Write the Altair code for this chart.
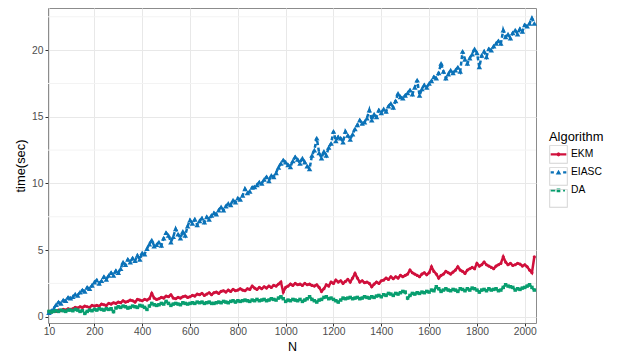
import altair as alt
import pandas as pd

ALGORITHMS = ["EKM", "EIASC", "DA"]
COLORS = ["#D0103C", "#0B72B8", "#089E6F"]
SHAPES = ["circle", "triangle-up", "square"]
POINT_SIZES = [10, 30, 12]
DASHES = [[1, 0], [4, 2.5], [7, 2.5]]

N = list(range(10, 2041, 10))

EKM = [
    0.4, 0.35, 0.45, 0.4, 0.5, 0.45, 0.55, 0.5, 0.6, 0.55,
    0.6, 0.7, 0.65, 0.75, 0.7, 0.8, 0.75, 0.7, 0.85, 0.8,
    0.85, 0.8, 0.95, 0.9, 0.85, 1.0, 0.95, 1.05, 1.0, 1.1,
    1.05, 1.2, 1.1, 1.15, 1.25, 1.2, 1.1, 1.3, 1.25, 1.2,
    1.3, 1.25, 1.35, 1.75, 1.4, 1.3, 1.35, 1.45, 1.4, 1.55,
    1.5, 1.65, 1.4, 1.35, 1.45, 1.4, 1.5, 1.55, 1.45, 1.5,
    1.6, 1.55, 1.7, 1.65, 1.75, 1.6, 1.7, 1.8, 1.65, 1.8,
    1.85, 1.75, 1.9, 1.95, 1.85, 2.0, 1.9, 2.05, 1.95, 2.0,
    2.1, 2.0, 1.95, 2.1, 2.05, 2.3, 2.15, 2.05, 2.2, 2.1,
    2.25, 2.15, 2.3, 2.2, 2.35, 2.3, 2.45, 2.6, 1.85, 2.2,
    2.3, 2.45, 2.35, 2.5, 2.4, 2.45, 2.35, 2.5, 2.4, 2.45,
    2.35, 2.3, 2.4, 2.2, 1.9, 2.1, 2.4, 2.3, 2.6, 2.5,
    2.75, 2.6, 2.7, 2.5, 2.65, 2.8, 2.6, 2.9, 3.25, 2.9,
    2.6, 2.7, 2.55, 2.6, 2.5, 2.25, 2.45, 2.6, 2.5, 2.7,
    2.75, 2.9, 2.8, 3.0, 2.85, 3.0, 2.9, 3.1, 3.0, 3.1,
    3.2, 3.5, 3.3, 3.2, 3.1, 3.0, 3.2, 3.3, 3.15, 3.3,
    3.75, 3.4, 3.2, 2.9, 3.1, 3.2, 3.4, 3.3, 3.2, 3.35,
    3.5, 3.75, 3.5, 3.4, 3.25, 3.5, 3.6, 3.7, 3.6, 4.0,
    3.8, 3.9, 4.1, 3.9, 3.8, 3.7, 3.6, 3.8, 3.9, 4.0,
    4.5, 4.1, 3.9, 4.0, 3.85, 3.9, 4.0, 3.95, 3.8, 3.9,
    3.75, 3.5, 3.3, 4.5,
]

EIASC = [
    0.3, 0.45, 0.6, 0.9, 1.1, 1.0, 1.25, 1.2, 1.45, 1.4,
    1.5, 1.7, 1.6, 1.85, 2.0, 1.9, 2.2, 2.1, 2.35, 2.6,
    2.75, 2.5, 2.7, 3.0, 2.8, 3.1, 3.3, 3.1, 3.45, 3.3,
    3.6, 4.1, 3.9, 4.3, 4.1, 4.4, 4.2, 4.6, 4.3, 4.8,
    4.7, 5.1, 5.45, 5.75, 5.3, 5.4, 5.6, 5.35, 5.9, 6.3,
    6.1, 5.6, 6.0, 6.6, 6.2, 5.9, 6.4, 6.1, 6.8, 7.25,
    7.0, 7.3, 6.9, 7.2, 7.4, 7.1, 7.5, 7.3, 7.6, 7.8,
    7.7, 8.0, 8.25, 8.0, 8.3, 8.5, 8.4, 8.75, 8.6, 8.9,
    8.8, 9.1, 9.6, 9.3, 9.4, 9.7, 9.75, 9.9, 10.1, 10.0,
    10.3, 10.5, 10.2, 10.6, 10.5, 10.8, 11.2, 11.5, 11.75, 11.6,
    11.4, 11.25, 11.7, 12.0, 11.8, 11.5, 11.9, 11.6, 11.3, 11.1,
    12.1, 12.5, 13.4, 12.3, 11.9, 12.4, 12.1, 12.7, 13.0, 13.9,
    13.2, 13.5, 13.4, 13.1, 13.9, 13.6, 13.3, 13.7, 14.1, 14.4,
    14.75, 14.5, 14.6, 14.9, 15.5, 14.75, 15.2, 15.0, 15.5, 15.3,
    15.6, 15.4, 15.8, 16.0, 15.7, 16.2, 16.75, 16.5, 16.4, 16.6,
    16.8, 17.0, 16.7, 17.2, 17.75, 16.6, 17.1, 17.4, 17.2, 17.5,
    17.7, 18.0, 17.9, 18.3, 19.0, 18.4, 17.9, 18.2, 18.5, 18.3,
    18.5, 18.7, 18.4, 19.9, 19.3, 19.0, 19.4, 19.7, 20.1, 19.8,
    18.75, 19.6, 19.9, 19.5, 20.1, 20.0, 20.3, 20.5, 20.7, 20.5,
    21.5, 21.0, 21.2, 20.9, 21.3, 21.5, 21.2, 21.6, 21.4, 21.9,
    21.8, 22.0, 22.4, 22.0,
]

DA = [
    0.4, 0.35, 0.4, 0.45, 0.4, 0.5, 0.45, 0.4, 0.5, 0.5,
    0.45, 0.55, 0.5, 0.4, 0.45, 0.25, 0.4, 0.5, 0.45, 0.55,
    0.5, 0.6, 0.55, 0.5, 0.6, 0.55, 0.6, 0.38, 0.65, 0.75,
    0.7, 0.8, 0.75, 0.65, 0.7, 0.8, 0.75, 0.7, 0.85, 0.8,
    0.7, 0.55, 0.8, 1.0, 0.9, 0.85, 0.9, 1.0, 0.95, 1.15,
    1.0, 0.85, 0.95, 1.0, 0.95, 0.9, 1.05, 1.0, 0.95, 1.0,
    1.05, 1.0, 1.1, 1.05, 1.1, 1.0, 1.05, 1.1, 1.0, 1.0,
    1.05, 1.1, 1.05, 1.15, 1.1, 1.05, 1.15, 1.2, 1.1, 1.2,
    1.15, 1.2, 1.25, 1.2, 1.15, 1.25, 1.2, 1.3, 1.2, 1.25,
    1.3, 1.2, 1.25, 1.35, 1.3, 1.25, 1.4, 1.5, 1.35, 1.15,
    1.25, 1.2, 1.3, 1.25, 1.2, 1.3, 1.15, 1.25, 1.35, 1.5,
    1.3, 1.2, 1.1, 1.25, 1.3, 1.45, 1.5, 1.35, 1.4, 1.3,
    1.2, 1.1, 1.25, 1.4, 1.35, 1.4, 1.45, 1.35, 1.4, 1.45,
    1.35, 1.4, 1.5, 1.45, 1.4, 1.5, 1.45, 1.55, 1.6, 1.5,
    1.65, 1.6, 1.75, 1.7, 1.6, 1.75, 1.7, 1.8, 1.9, 1.85,
    1.4, 1.6, 1.75, 1.7, 1.8, 1.75, 1.85, 1.8, 1.9, 1.85,
    2.0, 1.95, 2.25, 2.1, 1.9, 2.0, 2.1, 2.0, 1.95, 2.05,
    2.0, 1.9, 2.1, 2.05, 1.95, 2.1, 2.0, 2.15, 2.1, 2.0,
    1.85, 2.0, 2.05, 1.95, 2.1, 2.0, 2.05, 2.1, 1.95, 2.0,
    2.2, 2.4, 2.3, 2.25, 2.2, 2.0, 2.1, 2.05, 2.15, 2.2,
    2.3, 2.4, 2.2, 2.0,
]

X_TICKS = [10, 200, 400, 600, 800, 1000, 1200, 1400, 1600, 1800, 2000]
Y_TICKS = [0, 5, 10, 15, 20]
Y_MINOR = [2.5, 7.5, 12.5, 17.5, 22.5]

# legend key glyphs (line + marker), in the unit square [-1, 1]
KEY_PATHS = [
    "M-0.85,-0.12H0.85V0.12H-0.85Z "
    "M0.22,0L0.156,0.156L0,0.22L-0.156,0.156L-0.22,0L-0.156,-0.156L0,-0.22L0.156,-0.156Z",
    "M-0.85,-0.12H-0.5V0.12H-0.85Z M0.5,-0.12H0.85V0.12H0.5Z "
    "M-0.3,0.24L0,-0.3L0.3,0.24Z",
    "M-0.85,-0.12H-0.35V0.12H-0.85Z M0.5,-0.12H0.7V0.12H0.5Z "
    "M-0.2,-0.2H0.2V0.2H-0.2Z",
]
# hollow square frame for the key boxes
KEY_BOX = "M-1,-1H1V1H-1Z M-0.9,-0.9V0.9H0.9V-0.9Z"

series = {"EKM": EKM, "EIASC": EIASC, "DA": DA}
rows = []
for alg in ALGORITHMS:
    for n, t in zip(N, series[alg]):
        rows.append({"N": n, "time": t, "Algorithm": alg})
df = pd.DataFrame(rows)

FONT = "Liberation Sans"

x_enc = alt.X(
    "N:Q",
    scale=alt.Scale(domain=[6, 2047], nice=False, zero=False),
    axis=alt.Axis(values=X_TICKS, title="N", format="d", labelFlush=False,
                  titleY=27, titleBaseline="alphabetic", titleFontSize=12.5),
)
y_enc = alt.Y(
    "time:Q",
    scale=alt.Scale(domain=[-0.47, 23.16], nice=False, zero=False),
    axis=alt.Axis(values=Y_TICKS, title="time(sec)", format="d"),
)
color_scale = alt.Scale(domain=ALGORITHMS, range=COLORS)

legend_common = dict(
    orient="none",
    legendX=501,
    legendY=123,
    padding=0,
    titleFontSize=12.9,
    titleFont=FONT,
    titleFontWeight="normal",
    titleColor="#000000",
    titlePadding=1,
    labelFontSize=10.3,
    labelFont=FONT,
    labelColor="#000000",
    labelOffset=3,
    symbolSize=342,
    symbolStrokeWidth=0,
    symbolOpacity=1,
    rowPadding=3,
)
LEGEND = alt.Legend(title="Algorithm", **legend_common)
BOX_LEGEND = alt.Legend(
    title=" ", symbolType=KEY_BOX, titleOpacity=0, labelExpr="''", **legend_common
)

color_enc = alt.Color("Algorithm:N", scale=color_scale, legend=LEGEND)

base = alt.Chart(df)

# empty layer that only carries the legend keys (line + marker glyphs)
key_layer = (
    base.transform_filter("false")
    .mark_point(filled=True, opacity=1, size=342)
    .encode(
        x=x_enc,
        y=y_enc,
        color=color_enc,
        shape=alt.Shape(
            "Algorithm:N",
            scale=alt.Scale(domain=ALGORITHMS, range=KEY_PATHS),
            legend=LEGEND,
        ),
    )
)

# empty layer that only carries the grey boxes around the legend keys
box_layer = (
    base.transform_filter("false")
    .transform_calculate(Key="datum.Algorithm + ' '")
    .mark_point(filled=True, opacity=1, size=342)
    .encode(
        x=x_enc,
        y=y_enc,
        fill=alt.Fill(
            "Key:N",
            scale=alt.Scale(
                domain=[a + " " for a in ALGORITHMS],
                range=["#D2D2D2"] * len(ALGORITHMS),
            ),
            legend=BOX_LEGEND,
        ),
    )
)

minor = (
    alt.Chart(pd.DataFrame({"time": Y_MINOR}))
    .mark_rule(color="#F3F3F3", strokeWidth=1)
    .encode(y=y_enc)
)

lines = base.mark_line(strokeWidth=2.5).encode(
    x=x_enc,
    y=y_enc,
    color=color_enc,
    strokeDash=alt.StrokeDash(
        "Algorithm:N", scale=alt.Scale(domain=ALGORITHMS, range=DASHES), legend=None
    ),
)

point_layers = []
for alg, shp, sz in zip(ALGORITHMS, SHAPES, POINT_SIZES):
    point_layers.append(
        base.transform_filter(alt.datum.Algorithm == alg)
        .mark_point(shape=shp, size=sz, filled=True, opacity=1)
        .encode(x=x_enc, y=y_enc, color=color_enc)
    )

chart = (
    alt.layer(key_layer, box_layer, minor, lines, *point_layers)
    .properties(
        width=488,
        height=315,
        padding={"left": 40, "top": 0, "right": 77, "bottom": 30},
        autosize=alt.AutoSizeParams(type="none"),
        background="white",
    )
    .configure_view(stroke="#8C8C8C", strokeWidth=1)
    .configure_axis(
        labelFont=FONT,
        labelFontSize=10.3,
        labelColor="#4D4D4D",
        titleFont=FONT,
        titleFontSize=12.9,
        titleFontWeight="normal",
        titleColor="#000000",
        tickColor="#333333",
        tickSize=3,
        tickWidth=1,
        domain=False,
        grid=True,
        gridColor="#E8E8E8",
        gridWidth=1,
    )
    .configure_axisX(labelPadding=0)
    .configure_axisY(labelPadding=2, titlePadding=4)
)

chart.save("out.html", embed_options={"renderer": "svg", "actions": False})
